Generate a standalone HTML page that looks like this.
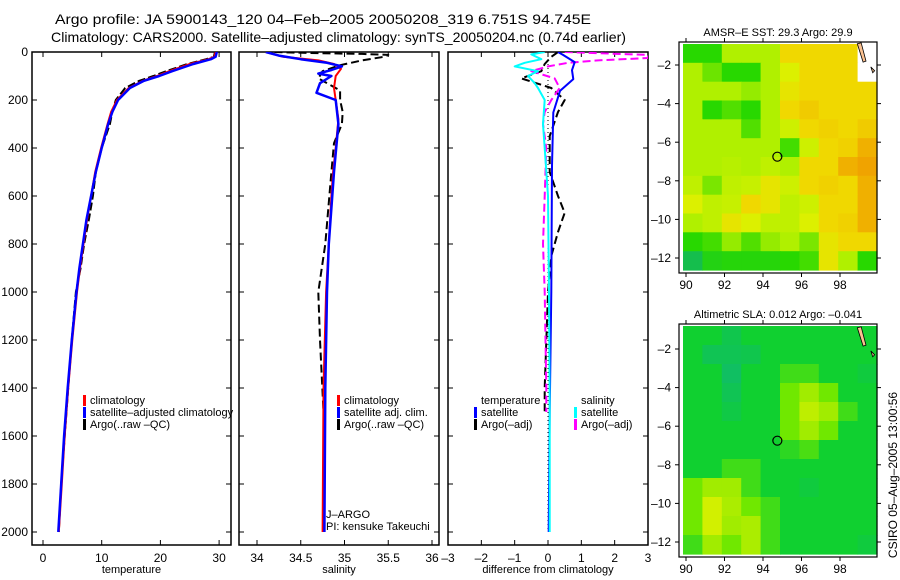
<!DOCTYPE html>
<html><head><meta charset="utf-8"><style>
html,body{margin:0;padding:0;background:#fff;}
svg{display:block;font-family:"Liberation Sans",sans-serif;}
</style></head><body>
<svg id="fig" width="900" height="580" viewBox="0 0 900 580" xmlns="http://www.w3.org/2000/svg">
<text x="55" y="24" font-size="14" textLength="536" lengthAdjust="spacingAndGlyphs">Argo profile: JA 5900143_120 04–Feb–2005 20050208_319 6.751S 94.745E</text>
<text x="51" y="42" font-size="14" textLength="575" lengthAdjust="spacingAndGlyphs">Climatology: CARS2000. Satellite–adjusted climatology: synTS_20050204.nc (0.74d earlier)</text>
<text transform="translate(897,475) rotate(-90)" text-anchor="middle" font-size="12">CSIRO 05–Aug–2005 13:00:56</text>
<g id="g"></g>
</svg>
<script>
// ---- profile data ----
const tempDepth = [0,20,30,50,80,100,120,150,200,250,300,400,500,600,700,800,900,1000,1200,1400,1600,1800,2000];
const tempClim  = [29.4,29.2,28.2,25,21.5,19.4,17,14.6,12.6,11.6,11,9.9,8.9,8.2,7.5,6.9,6.3,5.8,5,4.3,3.7,3.2,2.7];
const tempSat   = [29.6,29.4,28.6,25.6,22,19.8,17.2,14.8,12.8,11.8,11.1,10,9,8.2,7.4,6.8,6.2,5.7,4.9,4.2,3.6,3.1,2.6];
const tempArgo  = [29.3,29.1,27.8,24.6,21,18.8,16.4,14,12.4,11.8,11.4,10,9,8.5,7.8,7,6.4,5.6,4.9,4.3,3.7,3.1,2.7];

const salDepth = [0,10,20,35,50,70,100,150,200,280,400,500,600,800,1000,1400,2000];
const salClim  = [34.1,34.2,34.3,34.7,34.88,34.96,34.9,34.88,34.9,34.93,34.9,34.87,34.85,34.82,34.79,34.76,34.75];
const salSatDepth = [0,15,30,45,60,75,90,100,130,170,200,300,500,800,1000,1400,2000];
const salSat   = [34.1,34.25,34.5,34.8,34.97,34.85,34.7,34.85,34.72,34.68,34.9,34.93,34.88,34.82,34.8,34.78,34.77];
const salArgoDepth = [0,4,8,12,20,35,55,80,110,140,160,200,250,300,380,500,800,1000,1200,1500];
const salArgo  = [34.2,34.6,35.2,35.5,35.45,35.2,34.95,34.75,34.7,34.85,34.95,34.95,34.98,34.97,34.88,34.85,34.78,34.7,34.72,34.76];

const dTempSatDepth = [0,12,42,76,113,162,252,475,1000,1500,2000];
const dTempSat  = [0.3,0.45,0.8,0.72,0.76,0.36,0.16,0.12,0.1,0.05,0.02];
const dTempArgoDepth = [0,20,50,80,110,150,200,250,350,500,600,670,750,850,1000,1400,1500];
const dTempArgo = [0.3,0.1,-0.1,-0.2,-0.8,0.1,0.5,0.3,0.05,0.05,0.3,0.5,0.3,0.1,0,-0.1,-0.1];
const dSalSatDepth = [0,10,30,45,60,80,100,130,150,200,300,400,600,1000,1500,2000];
const dSalSat   = [-0.1,-0.5,-0.2,-0.7,-1.0,-0.3,-0.6,-0.4,-0.3,-0.1,-0.15,-0.1,0,0.03,0.05,0.05];
const dSalArgoDepth = [0,5,12,25,35,45,60,80,110,150,200,250,300,400,600,800,1000,1400,1500];
const dSalArgo  = [0.5,1.5,3.0,3.0,1.5,0.6,0,-0.5,0.2,0.35,0.1,-0.1,-0.15,-0.05,-0.1,-0.15,-0.1,-0.05,-0.05];

const depthTicks = [0,200,400,600,800,1000,1200,1400,1600,1800,2000];
const tempTicks = [0,10,20,30];
const salTicks = [34,34.5,35,35.5,36];
const diffTicks = [-3,-2,-1,0,1,2,3];

// ---- map data (values on coarse grids, rows north->south) ----
const sstGrid = [
[1,1,2,2,2,3,3,3,3,-1],
[2,1.5,1,1,2,2.6,3,3,3,-1],
[2,2,2,1.8,2,2.8,3,3,3,3],
[2,1,1.3,1,2,3,3.2,3,3,3],
[2,2,2,1.3,2,2.4,3,3.1,3,3.2],
[2,2,2,2,2,1.2,2.4,3,3.1,3.6],
[2,2,2.1,2,2.2,2,3,3,3.6,3.8],
[2.2,1.6,2.2,2.3,2.8,2.4,3,3.1,3,3.6],
[2.6,2.2,2.3,3,2.8,2.2,2.4,3,3,3.6],
[2,2.2,2.8,2.6,2.2,2.2,2.6,3,3.1,3.6],
[1,1.2,1.8,1.3,1.8,2,1.6,2.8,3,3],
[0.2,0.8,0.9,0.9,0.9,1,1.2,2.8,2,1]];
const slaGrid = [
[1,1,0.6,1,1,1,1,1,1,1],
[1,0.5,0.5,0.6,1,1,1,1,1,1],
[1,1,0.3,1,1,1.5,1.5,1,1,0.8],
[1,1,0.5,1,1,2,2.5,2,1,1],
[1,1,0.7,1,1,2,2.8,2.5,1.5,1],
[1,1,1,1,1,2,2.5,2,1,1],
[1,1,1,1,1,1.3,1.6,1,1,1],
[1,1,1.5,1.5,1,1,1,1,1,1],
[2,2.5,2.5,1.5,1,1,0.8,1,1,1],
[2,3,2.6,2,1.5,1,1,1,1,1],
[2,3,2.5,2.6,1.5,1,1,1,1,1],
[1.5,2.5,2,2.6,1.5,1,1,1,1,0.8]];
const argoLon = [94.745];
const argoLat = [-6.751];
const mapLonTicks = [90,92,94,96,98];
const mapLatTicks = [-2,-4,-6,-8,-10,-12];

const NS="http://www.w3.org/2000/svg";
const G=document.getElementById('g');
function mk(tag,attrs,parent){const e=document.createElementNS(NS,tag);for(const k in attrs)e.setAttribute(k,attrs[k]);(parent||G).appendChild(e);return e;}
function txt(s,attrs,parent){const e=mk('text',attrs,parent);e.textContent=s;return e;}

const TOP=52,BOT=545;
const yD=d=>TOP+d*0.24;
const xT=t=>43+t*5.87;
const xS=s=>257+(s-34)*87.5;
const xDf=v=>548+v*33.33;

function panel(name,x0,x1,xf,ticks,label,fmt){
  const g=mk('g',{});
  
  
  const cp=mk('clipPath',{id:'clip-'+name},g);
  mk('rect',{x:x0,y:TOP,width:x1-x0,height:BOT-TOP},cp);
  const frame=mk('rect',{x:x0,y:TOP,width:x1-x0,height:BOT-TOP,fill:'none',stroke:'#000','stroke-width':1.5},g);
  
  
  depthTicks.forEach(d=>{
    mk('line',{x1:x0,x2:x0+5,y1:yD(d),y2:yD(d),stroke:'#000'},g);
    mk('line',{x1:x1-5,x2:x1,y1:yD(d),y2:yD(d),stroke:'#000'},g);
  });
  ticks.forEach(v=>{
    const x=xf(v);
    mk('line',{x1:x,x2:x,y1:TOP,y2:TOP+5,stroke:'#000'},g);
    mk('line',{x1:x,x2:x,y1:BOT-5,y2:BOT,stroke:'#000'},g);
    const t=txt(fmt(v),{x:x,y:BOT+17,'font-size':12,'text-anchor':'middle'},g);
    
    
  });
  const lb=txt(label,{x:(x0+x1)/2,y:573,'font-size':11,'text-anchor':'middle'},g);
  
  
  return g;
}
function series(g,name,clip,depths,vals,xf,color,w,dash){
  const pts=depths.map((d,i)=>xf(vals[i]).toFixed(1)+','+yD(d).toFixed(1)).join(' ');
  const a={points:pts,fill:'none',stroke:color,'stroke-width':w,'clip-path':'url(#clip-'+clip+')','stroke-linejoin':'round'};
  if(dash)a['stroke-dasharray']=dash;
  const p=mk('polyline',a,g);
  
  
}
function legend(g,x,y,items){
  items.forEach((it,i)=>{
    if(it.c) mk('rect',{x:x,y:y+i*12-9,width:3,height:11,fill:it.c},g);
    const t=txt(it.t,{x:x+7,y:y+i*12,'font-size':11},g);
    
    
  });
}

depthTicks.forEach(d=>{
  const t=txt(String(d),{x:28,y:yD(d)+4,'font-size':12,'text-anchor':'end'});
  
  
});

const p1=panel('temperature-panel',32,231,xT,tempTicks,'temperature',v=>String(v));
series(p1,'temp-argo-line','temperature-panel',tempDepth,tempArgo,xT,'#000',2,'8,3');
series(p1,'temp-clim-line','temperature-panel',tempDepth,tempClim,xT,'#f00',2);
series(p1,'temp-sat-line','temperature-panel',tempDepth,tempSat,xT,'#00f',2.5);
legend(p1,83,404,[{c:'#f00',t:'climatology'},{c:'#00f',t:'satellite–adjusted climatology'},{c:'#000',t:'Argo(..raw –QC)'}]);

const p2=panel('salinity-panel',239,439,xS,salTicks,'salinity',v=>String(v));
series(p2,'sal-argo-line','salinity-panel',salArgoDepth,salArgo,xS,'#000',2,'8,4');
series(p2,'sal-clim-line','salinity-panel',salDepth,salClim,xS,'#f00',2);
series(p2,'sal-sat-line','salinity-panel',salSatDepth,salSat,xS,'#00f',2.5);
legend(p2,337,404,[{c:'#f00',t:'climatology'},{c:'#00f',t:'satellite adj. clim.'},{c:'#000',t:'Argo(..raw –QC)'}]);
txt('J–ARGO',{x:326,y:518,'font-size':11},p2);
txt('PI: kensuke Takeuchi',{x:326,y:530,'font-size':11},p2);

const p3=panel('difference-panel',448,648,xDf,diffTicks,'difference from climatology',v=>v<0?'–'+(-v):String(v));
mk('line',{x1:xDf(0),x2:xDf(0),y1:TOP,y2:yD(2000),stroke:'#000','stroke-dasharray':'1,3'},p3);
series(p3,'dtemp-argo-line','difference-panel',dTempArgoDepth,dTempArgo,xDf,'#000',2,'8,4');
series(p3,'dsal-argo-line','difference-panel',dSalArgoDepth,dSalArgo,xDf,'#f0f',2,'8,4');
series(p3,'dtemp-sat-line','difference-panel',dTempSatDepth,dTempSat,xDf,'#00f',2);
series(p3,'dsal-sat-line','difference-panel',dSalSatDepth,dSalSat,xDf,'#0ff',2);
legend(p3,474,404,[{c:null,t:'temperature'},{c:'#00f',t:'satellite'},{c:'#000',t:'Argo(–adj)'}]);
legend(p3,574,404,[{c:null,t:'salinity'},{c:'#0ff',t:'satellite'},{c:'#f0f',t:'Argo(–adj)'}]);

// ---- maps ----
function lerpC(stops,v){
  const rgb=a=>'rgb('+a.join(',')+')';
  if(v<=stops[0][0])return rgb(stops[0][1]);
  for(let i=1;i<stops.length;i++){if(v<=stops[i][0]){const a=stops[i-1],b=stops[i],t=(v-a[0])/(b[0]-a[0]);
    return rgb(a[1].map((c,k)=>Math.round(c+(b[1][k]-c)*t)));}}
  return rgb(stops[stops.length-1][1]);
}
const sstStops=[[0,[16,184,96]],[1,[40,216,0]],[2,[176,240,0]],[2.6,[220,240,0]],[3,[240,216,0]],[4,[240,150,0]]];
const slaStops=[[0,[16,184,120]],[1,[16,208,48]],[2,[112,232,0]],[3,[210,240,0]]];
function drawMap(name,title,fx0,fx1,fy0,fy1,lat2y,lat12y,grid,stops){
  const g=mk('g',{});
  
  
  const lonX=l=>686+(l-90)*19.25;
  const latY=l=>lat2y+(l+2)*(lat12y-lat2y)/(-10);
  const ix0=fx0+4,ix1=fx1,iy0=fy0+2,iy1=fy1-3;
  const rows=grid.length,cols=grid[0].length,cw=(ix1-ix0)/cols,ch=(iy1-iy0)/rows;
  grid.forEach((row,r)=>row.forEach((v,c)=>{
    const cell=mk('rect',{x:(ix0+c*cw).toFixed(1),y:(iy0+r*ch).toFixed(1),width:(cw+0.6).toFixed(1),height:(ch+0.6).toFixed(1),fill:v<0?'#fff':lerpC(stops,v)},g);
    
    
  }));
  mk('polygon',{points:`${lonX(98.9)},${latY(-0.9)} ${lonX(99.1)},${latY(-0.85)} ${lonX(99.35)},${latY(-1.8)} ${lonX(99.2)},${latY(-1.85)}`,fill:'#fac090',stroke:'#000','stroke-width':0.8},g);
  mk('polygon',{points:`${lonX(99.6)},${latY(-2.1)} ${lonX(99.8)},${latY(-2.3)} ${lonX(99.7)},${latY(-2.4)}`,fill:'#fac090',stroke:'#000','stroke-width':0.8},g);
  const c=mk('circle',{cx:lonX(argoLon[0]),cy:latY(argoLat[0]),r:4.5,fill:'none',stroke:'#000','stroke-width':1.2},g);
  
  
  mk('rect',{x:fx0,y:fy0,width:fx1-fx0,height:fy1-fy0,fill:'none',stroke:'#000','stroke-width':1.2},g);
  mapLonTicks.forEach(l=>{const x=lonX(l);
    mk('line',{x1:x,x2:x,y1:fy0,y2:fy0-4,stroke:'#000'},g);mk('line',{x1:x,x2:x,y1:fy1,y2:fy1+4,stroke:'#000'},g);
    const t=txt(String(l),{x:x,y:fy1+16,'font-size':12,'text-anchor':'middle'},g);
    
    
  });
  mapLatTicks.forEach(l=>{const y=latY(l);
    mk('line',{x1:fx0,x2:fx0-4,y1:y,y2:y,stroke:'#000'},g);mk('line',{x1:fx1,x2:fx1+4,y1:y,y2:y,stroke:'#000'},g);
    const t=txt('–'+(-l),{x:fx0-8,y:y+4,'font-size':12,'text-anchor':'end'},g);
    
    
  });
  const tt=txt(title,{x:(fx0+fx1)/2,y:fy0-6,'font-size':11,'text-anchor':'middle'},g);
  
  
}
drawMap('sst-map','AMSR–E SST: 29.3 Argo: 29.9',679,877,42,273,65,258,sstGrid,sstStops);
drawMap('sla-map','Altimetric SLA: 0.012 Argo: –0.041',679,877,324,557,349,542,slaGrid,slaStops);
</script>
</body></html>
